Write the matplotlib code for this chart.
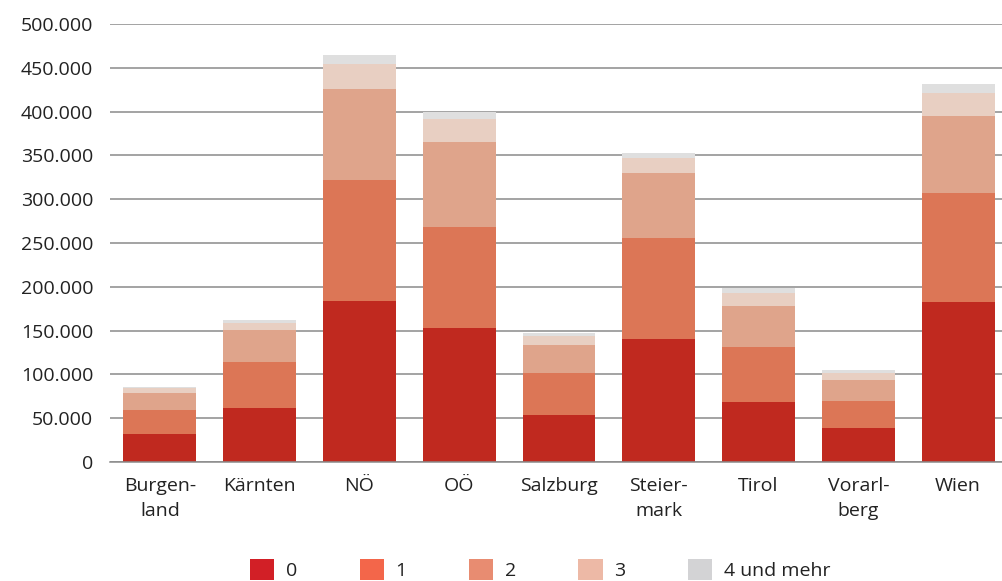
import matplotlib
matplotlib.use("Agg")
import matplotlib.pyplot as plt
from matplotlib.patches import Patch
from matplotlib.ticker import FuncFormatter
import numpy as np

# Daten: Anzahl nach Bundesland, gestapelt nach Kategorie
laender = ["Burgen-\nland", "Kärnten", "NÖ", "OÖ", "Salzburg",
           "Steier-\nmark", "Tirol", "Vorarl-\nberg", "Wien"]
kategorien = ["0", "1", "2", "3", "4 und mehr"]

wert_0 = [32000, 61600, 184000, 153000, 53700, 140000, 68500, 39000, 183000]
wert_1 = [27500, 52400, 138000, 115000, 48300, 116000, 62500, 30600, 124000]
wert_2 = [19500, 37000, 104000, 97000, 31600, 74000, 47000, 24000, 88000]
wert_3 = [5500, 8000, 28000, 27000, 10400, 17000, 15000, 8000, 26000]
wert_4 = [1500, 3000, 11000, 8000, 3000, 6000, 6000, 3400, 10500]

serien = [wert_0, wert_1, wert_2, wert_3, wert_4]
farben_balken = ["#C0291F", "#DC7656", "#DFA48B", "#E8CFC2", "#DFDFDF"]
farben_legende = ["#D21F26", "#F3664A", "#E88C71", "#EDB9A6", "#D3D3D5"]

plt.rcParams["font.family"] = ["Open Sans", "DejaVu Sans"]

fig = plt.figure(figsize=(10.02, 5.81), dpi=100)
ax = fig.add_axes([0.1098, 0.2048, 0.8902, 0.7539])

x = np.arange(len(laender))
unten = np.zeros(len(laender))
for werte, farbe in zip(serien, farben_balken):
    ax.bar(x, werte, width=0.73, bottom=unten, color=farbe,
           edgecolor="none", zorder=2)
    unten = unten + np.array(werte)

ax.set_xlim(-0.5, 8.44)
ax.set_ylim(0, 500000)
ax.set_yticks(np.arange(0, 500001, 50000))
ax.yaxis.set_major_formatter(FuncFormatter(lambda v, p: f"{int(v):,}".replace(",", ".")))
ax.grid(axis="y", color="#8A8A8A", linewidth=1.1, zorder=1)
ax.set_axisbelow(True)
for s in ["top", "right", "left"]:
    ax.spines[s].set_visible(False)
ax.spines["bottom"].set_color("#8A8A8A")
ax.spines["bottom"].set_linewidth(1.1)

ax.set_xticks(x)
ax.set_xticklabels(laender, fontsize=14, color="#222222", linespacing=1.45)
ax.tick_params(axis="x", length=0, pad=11)
ax.tick_params(axis="y", length=0, pad=12, labelsize=14, labelcolor="#222222")

handles = [Patch(facecolor=f, edgecolor="none") for f in farben_legende]
fig.legend(handles, kategorien, loc="center", bbox_to_anchor=(0.539, 0.02),
           ncol=5, frameon=False, fontsize=14, handlelength=1.25,
           handleheight=1.3, handletextpad=0.6, columnspacing=3.2,
           labelcolor="#222222")

fig.savefig("out.png", dpi=100)
